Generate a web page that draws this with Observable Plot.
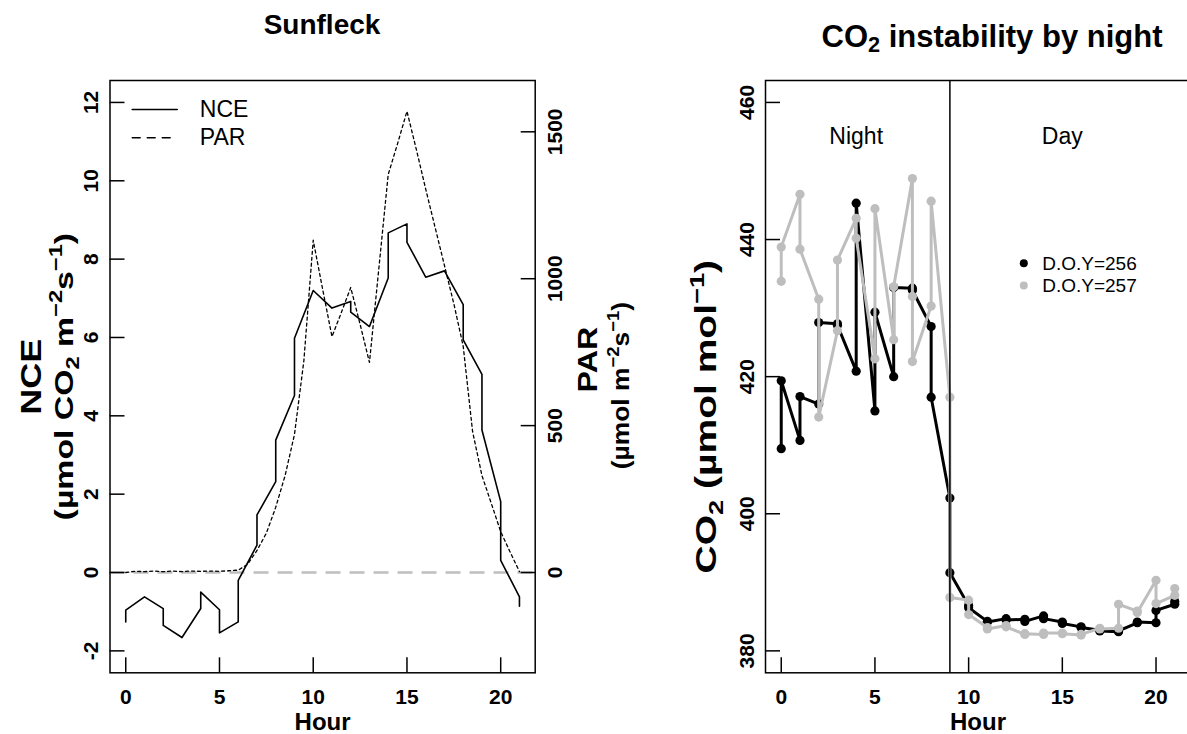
<!DOCTYPE html>
<html>
<head>
<meta charset="utf-8">
<script src="https://cdn.jsdelivr.net/npm/d3@7"></script>
<script src="https://cdn.jsdelivr.net/npm/@observablehq/plot@0.6"></script>
<style>
html,body{margin:0;padding:0;background:#fff;overflow:hidden;}
#wrap{position:relative;width:1187px;height:734px;overflow:hidden;background:#fff;font-family:"Liberation Sans",Arial,Helvetica,sans-serif;color:#000;}
#wrap svg{position:absolute;top:0;}
.ttl{position:absolute;font-weight:bold;white-space:nowrap;transform:translate(-50%,-50%);line-height:1;}
.ttl sub{font-size:70%;vertical-align:-0.25em;line-height:0;}
</style>
</head>
<body>
<div id="wrap">
  <div class="ttl" style="left:322px;top:25px;font-size:28px">Sunfleck</div>
  <div class="ttl" style="left:992px;top:36px;font-size:31px">CO<sub>2</sub> instability by night</div>
</div>
<script>
// ---------------- data ----------------
const hourTicks = [0, 5, 10, 15, 20];
const nceTicks = [-2, 0, 2, 4, 6, 8, 10, 12];
const parTicks = [0, 500, 1000, 1500];
const co2Ticks = [380, 400, 420, 440, 460];

// Sunfleck panel: net carbon exchange (NCE) and PAR by hour
const nceHour  = [0, 0, 1, 2, 2, 3, 4, 4, 5, 5, 6, 6, 7, 7, 8, 8, 9, 9, 10, 11, 12, 12, 13, 14, 14, 15, 15, 16, 17, 18, 18, 19, 19, 20, 20, 21, 21];
const nceValue = [-1.26, -0.96, -0.62, -0.92, -1.35, -1.66, -0.92, -0.5, -0.95, -1.54, -1.26, -0.2, 0.7, 1.47, 2.32, 3.38, 4.52, 5.98, 7.2, 6.75, 6.92, 6.65, 6.28, 7.52, 8.67, 8.9, 8.43, 7.54, 7.7, 6.84, 5.94, 5.06, 3.64, 1.81, 0.31, -0.62, -0.86];
const parHour  = [0, 0.5, 1, 1.5, 2, 2.5, 3, 3.5, 4, 4.5, 5, 5.5, 6, 6.5, 7, 7.5, 8, 8.5, 9, 9.5, 10, 10.5, 11, 11.5, 12, 12.5, 13, 13.5, 14, 14.5, 15, 15.5, 16, 16.5, 17, 17.5, 18, 18.5, 19, 19.5, 20, 20.5, 21];
const parValue = [0, 4, 3, 5, 3, 5, 3, 5, 4, 5, 4, 6, 8, 28, 75, 134, 222, 330, 470, 720, 1131, 965, 803, 885, 970, 845, 715, 1035, 1355, 1460, 1570, 1440, 1305, 1175, 1045, 915, 770, 480, 330, 235, 139, 70, 3];
const legendLeft = ["NCE", "PAR"];

// CO2 panel
const doy256Hour = [0, 0, 1, 1, 2, 2, 3, 3, 4, 4, 5, 5, 6, 6, 7, 7, 8, 8, 9, 9, 10, 10, 11, 11, 12, 12, 13, 13, 14, 14, 15, 15, 16, 16, 17, 17, 18, 18, 19, 19, 20, 20, 21, 21];
const doy256CO2  = [409.5, 419.4, 410.7, 417.1, 416.0, 427.9, 427.7, 427.5, 420.8, 445.3, 415.0, 429.4, 420.0, 433.0, 432.9, 432.6, 427.3, 417.0, 402.3, 391.4, 386.6, 386.3, 384.3, 384.2, 384.7, 384.5, 384.6, 384.3, 385.1, 384.7, 384.2, 384.0, 383.5, 383.4, 383.0, 382.9, 382.8, 382.9, 384.1, 384.2, 384.1, 385.9, 386.8, 387.2];
const doy257Hour = [0, 0, 1, 1, 2, 2, 3, 3, 4, 4, 5, 5, 6, 6, 7, 7, 7, 8, 8, 9, 9, 10, 10, 11, 11, 12, 12, 13, 13, 14, 14, 15, 15, 16, 16, 17, 17, 18, 18, 19, 19, 20, 20, 21, 21];
const doy257CO2  = [433.9, 438.9, 446.6, 438.6, 431.3, 414.1, 426.7, 437.0, 443.1, 440.2, 422.6, 444.5, 425.4, 433.1, 448.9, 431.7, 422.2, 430.3, 445.6, 417.0, 387.8, 387.4, 385.3, 383.4, 383.2, 383.7, 383.5, 382.4, 382.5, 382.4, 382.6, 382.6, 382.5, 382.3, 382.4, 383.3, 383.2, 383.3, 386.8, 385.8, 385.6, 390.3, 386.9, 388.1, 389.1];
const seriesNames  = ["D.O.Y=256", "D.O.Y=257"];
const seriesColors = ["#000000", "#bebebe"];
const periodLabels = ["Night", "Day"];
const periodHour   = [4, 15];
const periodCO2    = [455, 455];
const nightEndHour = 9;

// ---------------- helpers ----------------
const FONT = '"Liberation Sans", Arial, Helvetica, sans-serif';
const rExpand = ([a, b]) => [a - 0.04 * (b - a), b + 0.04 * (b - a)];
const hourDomain = rExpand(d3.extent(nceHour));
const nceDomain = rExpand([-2, 12]);
const parFactor = 1600 / 12;          // PAR axis = NCE axis x factor
const co2Domain = rExpand([380, 460]);

const nceData = nceHour.map((h, i) => ({hour: h, nce: nceValue[i]}));
const parData = parHour.map((h, i) => ({hour: h, par: parValue[i]}));
const d256 = doy256Hour.map((h, i) => ({hour: h, co2: doy256CO2[i]}));
const d257 = doy257Hour.map((h, i) => ({hour: h, co2: doy257CO2[i]}));
const periods = periodLabels.map((l, i) => ({label: l, hour: periodHour[i], co2: periodCO2[i]}));

const hLine = {draw(ctx, l) { ctx.moveTo(0, 0); ctx.lineTo(l, 0); }};
const TICK = {tickSize: -15, fill: "none", strokeWidth: 1.5};
const LAB = {tickSize: 0, label: null, fontSize: 21, fontWeight: "bold"};
const yLab = (txt, o) => Plot.text([txt], {text: d => d, rotate: -90, textAnchor: "middle", lineAnchor: "middle", fontWeight: "bold", ...o});

// rich text (sub/superscripts) + stretch along the reading direction, rotated titles only
function richify(svg, plain, parts, fs, k = 1) {
  d3.select(svg).selectAll("text").filter(function () {
    return this.textContent === plain && /rotate/.test(this.getAttribute("transform") || "");
  }).each(function () {
    const t = d3.select(this);
    if (parts) {
      t.text(null);
      let cur = 0;
      for (const [s, kind] of parts) {
        const target = kind === "sup" ? -0.42 * fs : kind === "sub" ? 0.22 * fs : 0;
        const ts = t.append("tspan").text(s);
        if (target !== cur) ts.attr("dy", target - cur);
        if (kind) ts.attr("font-size", (fs * 0.7).toFixed(1));
        cur = target;
      }
    }
    if (k !== 1) t.attr("transform", t.attr("transform") + ` scale(${k},1)`);
  });
}

// ---------------- left panel ----------------
const left = Plot.plot({
  width: 660, height: 734,
  marginLeft: 109.5, marginRight: 125.3, marginTop: 80, marginBottom: 61.7,
  style: {fontFamily: FONT, background: "none", overflow: "visible", color: "#000"},
  x: {domain: hourDomain},
  y: {domain: nceDomain},
  marks: [
    Plot.ruleY([0], {stroke: "#bebebe", strokeWidth: 2.6, strokeDasharray: "15,9"}),
    Plot.line(parData, {x: "hour", y: d => d.par / parFactor, stroke: "#000", strokeWidth: 1.3, strokeDasharray: "3,3"}),
    Plot.line(nceData, {x: "hour", y: "nce", stroke: "#000", strokeWidth: 1.6}),
    Plot.frame({stroke: "#000", strokeWidth: 1.5}),
    Plot.axisX(hourTicks, {anchor: "bottom", ...TICK}),
    Plot.axisX(hourTicks, {anchor: "bottom", ...LAB, tickPadding: 16}),
    Plot.axisY(nceTicks, {anchor: "left", ...TICK}),
    Plot.axisY(nceTicks, {anchor: "left", ...LAB, tickPadding: 12, tickRotate: -90, tickFormat: d => String(d)}),
    Plot.axisY(parTicks.map(p => p / parFactor), {anchor: "right", ...TICK}),
    Plot.axisY(parTicks.map(p => p / parFactor), {anchor: "right", ...LAB, tickPadding: 12, tickRotate: -90,
      textAnchor: "middle", lineAnchor: "top", tickFormat: d => String(Math.round(d * parFactor))}),
    Plot.text(["Hour"], {text: d => d, frameAnchor: "bottom", dy: 50, fontSize: 24, fontWeight: "bold", lineAnchor: "middle"}),
    yLab("NCE", {frameAnchor: "left", dx: -78.5, fontSize: 30}),
    yLab("(µmol CO2 m-2s-1)", {frameAnchor: "left", dx: -45.5, fontSize: 26}),
    yLab("PAR", {frameAnchor: "right", dx: 53.3, dy: -17, fontSize: 28}),
    yLab("(µmol m-2s-1)", {frameAnchor: "right", dx: 86.3, dy: 9, fontSize: 24}),
    // legend
    Plot.vector([legendLeft[0]], {frameAnchor: "top-left", length: 45, shape: hLine, anchor: "start", dx: 22.2, dy: 29, stroke: "#000", strokeWidth: 1.6}),
    Plot.vector([legendLeft[1]], {frameAnchor: "top-left", length: 45, shape: hLine, anchor: "start", dx: 22.2, dy: 57.3, stroke: "#000", strokeWidth: 1.4, strokeDasharray: "8,7"}),
    Plot.text([legendLeft[0]], {text: d => d, frameAnchor: "top-left", dx: 89.8, dy: 29.3, fontSize: 23, textAnchor: "start", lineAnchor: "middle"}),
    Plot.text([legendLeft[1]], {text: d => d, frameAnchor: "top-left", dx: 89.8, dy: 57.3, fontSize: 23, textAnchor: "start", lineAnchor: "middle"})
  ]
});
left.style.left = "0px";

// ---------------- right panel ----------------
const right = Plot.plot({
  width: 540, height: 734,
  marginLeft: 105, marginRight: 10, marginTop: 80, marginBottom: 61.7,
  style: {fontFamily: FONT, background: "none", overflow: "visible", color: "#000"},
  x: {domain: hourDomain},
  y: {domain: co2Domain},
  marks: [
    Plot.line(d256, {x: "hour", y: "co2", stroke: seriesColors[0], strokeWidth: 3}),
    Plot.dot(d256, {x: "hour", y: "co2", r: 4.6, fill: seriesColors[0]}),
    Plot.line(d257, {x: "hour", y: "co2", stroke: seriesColors[1], strokeWidth: 3}),
    Plot.dot(d257, {x: "hour", y: "co2", r: 4.6, fill: seriesColors[1]}),
    Plot.ruleX([nightEndHour], {stroke: "#000", strokeWidth: 1.5}),
    Plot.text(periods, {x: "hour", y: "co2", text: "label", fontSize: 23, lineAnchor: "middle"}),
    Plot.frame({stroke: "#000", strokeWidth: 1.5}),
    Plot.axisX(hourTicks, {anchor: "bottom", ...TICK}),
    Plot.axisX(hourTicks, {anchor: "bottom", ...LAB, tickPadding: 16}),
    Plot.axisY(co2Ticks, {anchor: "left", ...TICK}),
    Plot.axisY(co2Ticks, {anchor: "left", ...LAB, tickPadding: 12, tickRotate: -90}),
    Plot.text(["Hour"], {text: d => d, frameAnchor: "bottom", dy: 50, fontSize: 24, fontWeight: "bold", lineAnchor: "middle"}),
    yLab("CO2 (µmol mol-1)", {frameAnchor: "left", dx: -59, dy: 40, fontSize: 30}),
    // legend
    ...seriesNames.map((name, i) => Plot.dot([name], {frameAnchor: "top-left", dx: 258.3, dy: 182.7 + 22.3 * i, r: 4, fill: seriesColors[i]})),
    ...seriesNames.map((name, i) => Plot.text([name], {text: d => d, frameAnchor: "top-left", dx: 276.7, dy: 183 + 22.3 * i, fontSize: 19, textAnchor: "start", lineAnchor: "middle"}))
  ]
});
right.style.left = "660px";

const wrap = document.getElementById("wrap");
wrap.appendChild(left);
wrap.appendChild(right);

richify(left, "NCE", null, 30, 1.2);
richify(left, "PAR", null, 28, 1.15);
richify(left, "(µmol CO2 m-2s-1)", [["(µmol CO"], ["2", "sub"], [" m"], ["−2", "sup"], ["s"], ["−1", "sup"], [")"]], 26, 1.3);
richify(left, "(µmol m-2s-1)", [["(µmol m"], ["−2", "sup"], ["s"], ["−1", "sup"], [")"]], 24, 1.1);
richify(right, "CO2 (µmol mol-1)", [["CO"], ["2", "sub"], [" (µmol mol"], ["−1", "sup"], [")"]], 30, 1.3);
</script>
</body>
</html>
